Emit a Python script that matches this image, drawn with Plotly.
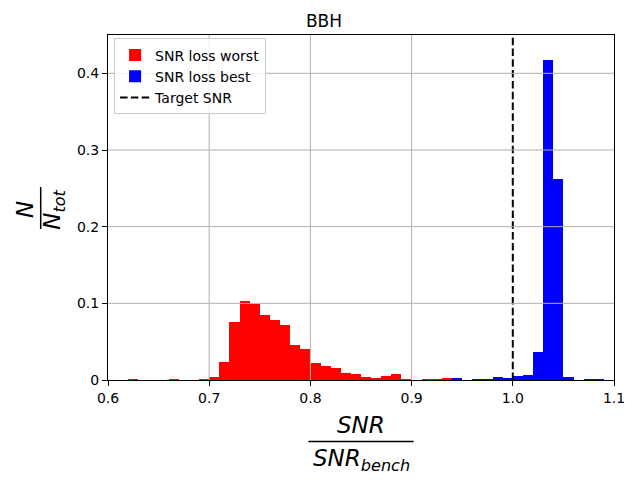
import plotly.graph_objects as go

# 直方图数据（从参考图读取，bin 宽 0.01，给出左边界）
worst_edges = [0.62, 0.66, 0.69, 0.70, 0.71, 0.72, 0.73, 0.74, 0.75, 0.76,
               0.77, 0.78, 0.79, 0.80, 0.81, 0.82, 0.83, 0.84, 0.85, 0.86,
               0.87, 0.88, 0.89, 0.91, 0.92, 0.93]
worst_vals = [0.001, 0.001, 0.001, 0.004, 0.024, 0.076, 0.103, 0.099, 0.085, 0.078,
              0.072, 0.046, 0.040, 0.022, 0.018, 0.016, 0.009, 0.008, 0.004, 0.003,
              0.005, 0.008, 0.001, 0.001, 0.001, 0.002]

best_edges = [0.94, 0.96, 0.97, 0.98, 0.99, 1.00, 1.01, 1.02, 1.03, 1.04,
              1.05, 1.07, 1.08]
best_vals = [0.002, 0.001, 0.001, 0.004, 0.003, 0.005, 0.007, 0.037, 0.418, 0.262,
             0.004, 0.001, 0.001]

BIN_W = 0.01
TARGET = 1.0
X_RANGE = [0.6, 1.1]
Y_RANGE = [0, 0.45]
x_ticks = [0.6, 0.7, 0.8, 0.9, 1.0, 1.1]
x_ticktext = ["0.6", "0.7", "0.8", "0.9", "1.0", "1.1"]
y_ticks = [0, 0.1, 0.2, 0.3, 0.4]
y_ticktext = ["0", "0.1", "0.2", "0.3", "0.4"]

FONT = "DejaVu Sans"
GRID = "#b0b0b0"

fig = go.Figure()

fig.add_trace(go.Bar(
    x=worst_edges, y=worst_vals, width=BIN_W, offset=0,
    name="SNR loss worst", marker=dict(color="#ff0000", line=dict(width=0)),
))
fig.add_trace(go.Bar(
    x=best_edges, y=best_vals, width=BIN_W, offset=0,
    name="SNR loss best", marker=dict(color="#0000ff", line=dict(width=0)),
))
fig.add_trace(go.Scatter(
    x=[TARGET, TARGET], y=Y_RANGE, mode="lines",
    name="Target SNR", line=dict(color="black", width=2, dash="7.5px,3.3px"),
))

# ── 网格线画在柱子上面（matplotlib 的样子）──
shapes = []
for v in x_ticks[1:-1]:
    if v == TARGET:
        continue
    shapes.append(dict(type="line", xref="x", yref="paper", x0=v, x1=v, y0=0, y1=1,
                       layer="above", line=dict(color=GRID, width=1)))
for v in y_ticks[1:]:
    shapes.append(dict(type="line", xref="paper", yref="y", x0=0, x1=1, y0=v, y1=v,
                       layer="above", line=dict(color=GRID, width=1)))

# ── 轴标签（分式，用注释拼出来）──
math_font = dict(family=FONT, size=23, color="black")
annotations = [
    dict(text="<i>SNR</i>", x=0.5, y=-0.1304, xref="paper", yref="paper",
         showarrow=False, font=math_font, xanchor="center", yanchor="middle"),
    dict(text="<i>SNR<sub>bench</sub></i>", x=0.5, y=-0.219, xref="paper", yref="paper",
         showarrow=False, font=math_font, xanchor="center", yanchor="middle", yshift=-4),
    dict(text="<i>N</i>", x=-0.164, y=0.4928, xref="paper", yref="paper", textangle=-90,
         showarrow=False, font=math_font, xanchor="center", yanchor="middle"),
    dict(text="<i>N<sub>tot</sub></i>", x=-0.107, y=0.4928, xref="paper", yref="paper",
         textangle=-90, showarrow=False, font=math_font, xanchor="center", yanchor="middle"),
]
shapes += [
    dict(type="line", xref="paper", yref="paper", x0=0.396, x1=0.604, y0=-0.178, y1=-0.178,
         line=dict(color="black", width=1.5)),
    dict(type="line", xref="paper", yref="paper", x0=-0.133, x1=-0.133, y0=0.4377, y1=0.5594,
         line=dict(color="black", width=1.5)),
]

# 页面有 8px 的 body 边距，所以整体尺寸减 8
fig.update_layout(
    width=632, height=472,
    paper_bgcolor="white", plot_bgcolor="white",
    font=dict(family=FONT, size=14, color="black"),
    title=dict(text="BBH", x=0.5, xanchor="center", y=0.9725, yanchor="middle",
               font=dict(family=FONT, size=17)),
    barmode="overlay", bargap=0,
    margin=dict(l=100, r=26, t=27, b=100),
    showlegend=True,
    legend=dict(x=0.012, y=0.99, xanchor="left", yanchor="top",
                bgcolor="rgba(255,255,255,0.8)", bordercolor="#cccccc", borderwidth=1,
                font=dict(family=FONT, size=14), tracegroupgap=0, itemwidth=30),
    annotations=annotations,
    shapes=shapes,
)
fig.update_xaxes(
    range=X_RANGE, tickvals=x_ticks, ticktext=x_ticktext, showgrid=False,
    showline=True, linecolor="black", linewidth=1, mirror=True,
    ticks="outside", ticklen=5, tickcolor="black", zeroline=False,
    layer="above traces",
)
fig.update_yaxes(
    range=Y_RANGE, tickvals=y_ticks, ticktext=y_ticktext, showgrid=False,
    showline=True, linecolor="black", linewidth=1, mirror=True,
    ticks="outside", ticklen=5, tickcolor="black", zeroline=False,
    layer="above traces",
)

fig.write_html("out.html")
